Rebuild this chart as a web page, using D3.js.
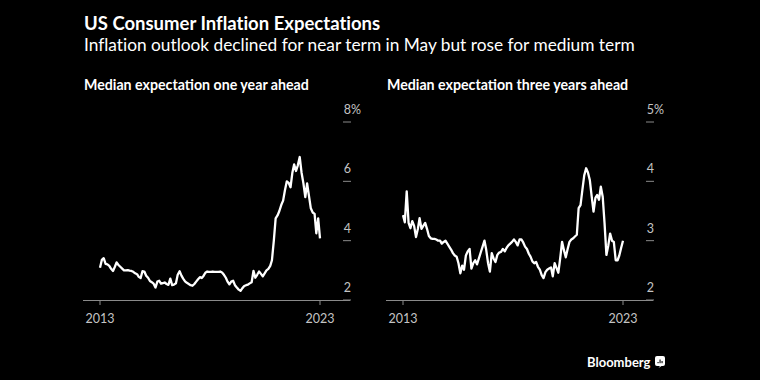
<!DOCTYPE html>
<html>
<head>
<meta charset="utf-8">
<script src="https://cdn.jsdelivr.net/npm/d3@7"></script>
<style>
  html, body { margin: 0; padding: 0; background: #000; }
  svg { display: block; font-family: Lato, "Noto Sans", sans-serif; }
</style>
</head>
<body>
<svg id="chart" width="760" height="380"></svg>
<script>
// monthly survey, Jun 2013 .. May 2023
const firstMonth = new Date(2013, 5, 1);
const lastMonth = new Date(2023, 4, 1);
const xTickLabels = ['2013', '2023'];

const oneYearAhead = [
  3.09, 3.35, 3.41, 3.22, 3.20, 3.15, 3.05, 2.98, 3.12, 3.27,
  3.18, 3.12, 3.06, 3.00, 3.00, 3.01, 2.99, 2.98, 2.95, 2.90,
  2.87, 2.78, 2.74, 2.97, 2.96, 2.82, 2.75, 2.64, 2.60, 2.55,
  2.42, 2.62, 2.65, 2.55, 2.57, 2.59, 2.54, 2.51, 2.72, 2.50,
  2.52, 2.56, 2.85, 2.97, 2.82, 2.72, 2.63, 2.58, 2.54, 2.50,
  2.48, 2.54, 2.62, 2.70, 2.77, 2.74, 2.82, 2.92, 2.96, 2.95,
  2.95, 2.96, 2.95, 2.95, 2.95, 2.96, 2.93, 2.85, 2.75, 2.62,
  2.53, 2.62, 2.65, 2.50, 2.42, 2.35, 2.31, 2.40, 2.47, 2.50,
  2.52, 2.56, 2.60, 2.98, 2.75, 2.85, 2.96, 2.88, 2.80, 2.90,
  3.00, 3.05, 3.15, 3.34, 4.00, 4.75, 4.85, 5.00, 5.20, 5.35,
  5.70, 6.00, 5.95, 5.80, 6.30, 6.57, 6.35, 6.54, 6.82, 6.30,
  5.93, 5.47, 5.93, 5.50, 5.09, 4.95, 4.90, 4.25, 4.75, 4.08
];

const threeYearsAhead = [
  3.43, 3.31, 3.83, 3.30, 3.21, 3.33, 3.25, 3.06, 3.20, 3.38,
  3.20, 3.25, 3.30, 3.20, 3.08, 3.04, 3.03, 3.03, 3.02, 3.00,
  3.00, 2.95, 2.98, 3.00, 2.95, 2.90, 2.85, 2.79, 2.75, 2.73,
  2.62, 2.45, 2.58, 2.51, 2.75, 2.82, 2.86, 2.53, 2.62, 2.67,
  2.60, 2.70, 2.80, 2.90, 3.00, 2.85, 2.62, 2.48, 2.79, 2.70,
  2.64, 2.76, 2.80, 2.81, 2.86, 2.82, 2.88, 2.92, 2.95, 2.98,
  3.02, 2.98, 2.92, 3.02, 3.02, 2.97, 2.90, 2.86, 2.78, 2.73,
  2.65, 2.62, 2.64, 2.56, 2.51, 2.42, 2.37, 2.47, 2.51, 2.53,
  2.55, 2.40, 2.62, 2.54, 2.46, 2.70, 2.98, 2.84, 2.72, 2.86,
  2.98, 3.02, 3.04, 3.07, 3.10, 3.55, 3.60, 3.85, 4.10, 4.22,
  4.15, 4.02, 3.75, 3.49, 3.72, 3.77, 3.69, 3.91, 3.74, 3.30,
  2.76, 2.92, 3.12, 3.00, 2.98, 2.67, 2.67, 2.75, 2.88, 3.00
];

const oneYearTicks = [2, 4, 6, 8];
const threeYearTicks = [2, 3, 4, 5];

const months = d3.timeMonth.range(firstMonth, d3.timeMonth.offset(lastMonth, 1));

const svg = d3.select('#chart');

// titles
svg.append('text')
  .attr('x', 84).attr('y', 30)
  .attr('fill', '#fff')
  .attr('font-size', 18.5).attr('font-weight', 700)
  .style('font-variant-ligatures', 'none')
  .text('US Consumer Inflation Expectations');

svg.append('text')
  .attr('x', 84).attr('y', 51)
  .attr('fill', '#fff')
  .attr('font-size', 17.3)
  .style('font-variant-ligatures', 'none')
  .text('Inflation outlook declined for near term in May but rose for medium term');

function drawPanel({ left, title, values, ticks }) {
  const g = svg.append('g').attr('transform', `translate(${left},0)`);

  const x = d3.scaleTime().domain([firstMonth, lastMonth]).range([16, 236]);
  const y = d3.scaleLinear().domain([ticks[0], ticks[ticks.length - 1]]).range([300, 122]);

  g.append('text')
    .attr('x', 0).attr('y', 90)
    .attr('fill', '#fff')
    .attr('font-size', 14.2).attr('font-weight', 700)
    .text(title);

  // y ticks: short dashes on the right with labels above
  const yt = g.selectAll('.ytick').data(ticks).join('g').attr('class', 'ytick');
  yt.append('line')
    .attr('x1', 259).attr('x2', 267)
    .attr('y1', d => y(d)).attr('y2', d => y(d))
    .attr('stroke', '#8a8a8a').attr('stroke-width', 1);
  yt.append('text')
    .attr('x', 267).attr('y', d => y(d) - 8)
    .attr('fill', '#c4c4c4')
    .attr('font-size', 12.5)
    .attr('text-anchor', 'end')
    .text(d => d);
  // percent sign hangs past the right edge on the top label
  g.append('text')
    .attr('x', 267).attr('y', y(ticks[ticks.length - 1]) - 8)
    .attr('fill', '#c4c4c4')
    .attr('font-size', 12.5)
    .text('%');

  // x axis
  g.append('line')
    .attr('x1', -1).attr('x2', 266)
    .attr('y1', 300.5).attr('y2', 300.5)
    .attr('stroke', '#8a8a8a').attr('stroke-width', 1.2);

  const xDates = [firstMonth, lastMonth];
  g.selectAll('.xtick').data(xDates).join('line')
    .attr('class', 'xtick')
    .attr('x1', d => x(d)).attr('x2', d => x(d))
    .attr('y1', 300).attr('y2', 305)
    .attr('stroke', '#8a8a8a').attr('stroke-width', 1);
  g.selectAll('.xlabel').data(xDates).join('text')
    .attr('class', 'xlabel')
    .attr('x', d => x(d)).attr('y', 323)
    .attr('fill', '#c4c4c4')
    .attr('font-size', 12.5)
    .attr('text-anchor', 'middle')
    .text((d, i) => xTickLabels[i]);

  const line = d3.line()
    .x((d, i) => x(months[i]))
    .y(d => y(d));

  g.append('path')
    .datum(values)
    .attr('d', line)
    .attr('fill', 'none')
    .attr('stroke', '#fff')
    .attr('stroke-width', 2.3)
    .attr('stroke-linejoin', 'round');
}

drawPanel({ left: 84, title: 'Median expectation one year ahead', values: oneYearAhead, ticks: oneYearTicks });
drawPanel({ left: 387, title: 'Median expectation three years ahead', values: threeYearsAhead, ticks: threeYearTicks });

// source mark
svg.append('text')
  .attr('x', 587).attr('y', 367)
  .attr('fill', '#fff')
  .attr('font-size', 13).attr('font-weight', 700)
  .text('Bloomberg');

const logo = svg.append('g').attr('transform', 'translate(655,356)');
logo.append('rect')
  .attr('width', 10).attr('height', 10).attr('rx', 2)
  .attr('fill', '#fff');
logo.append('path')
  .attr('d', 'M5,10 L3.5,12 L6.5,10 Z')
  .attr('fill', '#fff');
[[2.5, 6, 1.2], [4.5, 3.5, 3.7], [6.5, 5, 2.2]].forEach(([bx, by, bh]) => {
  logo.append('rect')
    .attr('x', bx).attr('y', by).attr('width', 1.1).attr('height', bh)
    .attr('fill', '#000');
});
</script>
</body>
</html>
